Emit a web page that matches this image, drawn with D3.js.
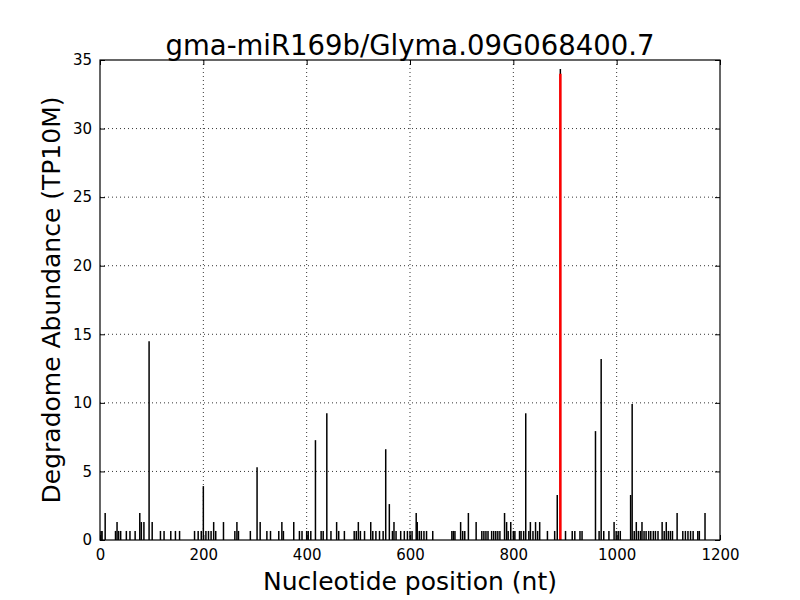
<!DOCTYPE html>
<html>
<head>
<meta charset="utf-8" />
<script src="https://d3js.org/d3.v7.min.js"></script>
<style>
  body { margin: 0; background: #fff; }
  text { font-family: "DejaVu Sans", sans-serif; }
</style>
</head>
<body>
<div id="chart"></div>
<script>
// degradome reads: position (nt) and abundance (TP10M)
var positions = [2, 4, 10, 30, 33, 36, 40, 51, 58, 68, 77, 80, 85, 95, 101, 117, 124, 137, 146, 154,
  183, 190, 196, 200, 205, 210, 215, 220, 224, 239, 261, 265, 268, 291, 304, 310, 323, 330, 346, 352,
  355, 375, 386, 391, 400, 403, 408, 417, 428, 432, 439, 447, 458, 462, 473, 492, 496, 500, 504, 512,
  524, 528, 534, 541, 548, 553, 560, 566, 569, 573, 582, 589, 595, 600, 604, 612, 614, 618, 622, 627,
  632, 644, 681, 684, 687, 698, 702, 706, 713, 728, 739, 743, 747, 751, 758, 762, 766, 770, 774, 783,
  787, 790, 795, 800, 803, 812, 815, 820, 824, 830, 833, 838, 843, 847, 851, 866, 880, 885, 891, 901,
  914, 919, 929, 933, 959, 966, 970, 975, 985, 995, 999, 1003, 1007, 1027, 1030, 1034, 1038, 1042, 1046, 1049,
  1053, 1057, 1062, 1066, 1071, 1075, 1080, 1088, 1092, 1096, 1100, 1104, 1108, 1117, 1128, 1133, 1138, 1143, 1148, 1157,
  1160, 1171];
var abundance = [0.66, 0.66, 1.97, 0.66, 1.31, 0.66, 0.66, 0.66, 0.66, 0.66, 1.97, 1.31, 1.31, 14.5, 1.31, 0.66, 0.66, 0.66, 0.66, 0.66,
  0.66, 0.66, 0.66, 3.93, 0.66, 0.66, 0.66, 1.31, 0.66, 1.31, 0.66, 1.31, 0.66, 0.66, 5.31, 1.31, 0.66, 0.66, 0.66, 1.31,
  0.66, 1.31, 0.66, 0.66, 0.66, 0.66, 0.66, 7.28, 0.66, 0.66, 9.24, 0.66, 1.31, 0.66, 0.66, 0.66, 0.66, 1.31, 0.66, 0.66,
  1.31, 0.66, 0.66, 0.66, 0.66, 6.62, 2.62, 0.66, 1.31, 0.66, 0.66, 0.66, 0.66, 0.66, 0.66, 1.97, 1.31, 0.66, 0.66, 0.66,
  0.66, 0.66, 0.66, 0.66, 0.66, 1.31, 0.66, 0.66, 1.97, 1.31, 0.66, 0.66, 0.66, 0.66, 0.66, 0.66, 0.66, 0.66, 0.66, 1.97,
  1.31, 0.66, 1.31, 0.66, 0.66, 0.66, 0.66, 0.66, 9.24, 0.66, 1.31, 0.66, 1.31, 0.66, 1.31, 0.66, 0.66, 3.28, 34.35, 0.66,
  0.66, 0.66, 0.66, 0.66, 7.94, 0.66, 13.2, 0.66, 0.66, 1.31, 0.66, 0.66, 0.66, 3.28, 9.92, 0.66, 1.31, 0.66, 0.66, 1.31,
  0.66, 0.66, 0.66, 0.66, 0.66, 0.66, 0.66, 1.31, 0.66, 1.31, 0.66, 0.66, 0.66, 1.97, 0.66, 0.66, 0.66, 0.66, 0.66, 0.66,
  0.66, 1.97];

// cleavage site
var sitePosition = [891];
var siteAbundance = [34.0];

var xTicks = [0, 200, 400, 600, 800, 1000, 1200];
var yTicks = [0, 5, 10, 15, 20, 25, 30, 35];

var margin = {top: 60, right: 80, bottom: 60, left: 100},
    width = 800 - margin.left - margin.right,
    height = 600 - margin.top - margin.bottom;

var svg = d3.select("#chart")
  .append("svg")
    .attr("width", 800)
    .attr("height", 600)
  .append("g")
    .attr("transform", "translate(" + margin.left + "," + margin.top + ")");

var x = d3.scaleLinear().domain([0, 1200]).range([0, width]);
var y = d3.scaleLinear().domain([0, 35]).range([height, 0]);

// grid
svg.append("g").selectAll("line.gx")
  .data(xTicks.slice(1, -1))
  .enter().append("line")
    .attr("x1", d => x(d)).attr("x2", d => x(d))
    .attr("y1", 0).attr("y2", height)
    .attr("stroke", "#000").attr("stroke-width", 0.8)
    .attr("stroke-dasharray", "1,3");
svg.append("g").selectAll("line.gy")
  .data(yTicks.slice(1, -1))
  .enter().append("line")
    .attr("x1", 0).attr("x2", width)
    .attr("y1", d => y(d)).attr("y2", d => y(d))
    .attr("stroke", "#000").attr("stroke-width", 0.8)
    .attr("stroke-dasharray", "1,3");

// bars
var data = positions.map((p, i) => ({pos: p, val: abundance[i]}));
svg.append("g").selectAll("line")
  .data(data)
  .enter().append("line")
    .attr("x1", d => x(d.pos)).attr("x2", d => x(d.pos))
    .attr("y1", y(0)).attr("y2", d => y(d.val))
    .attr("stroke", "#000").attr("stroke-width", 1.5);

svg.append("g").selectAll("line")
  .data(sitePosition.map((p, i) => ({pos: p, val: siteAbundance[i]})))
  .enter().append("line")
    .attr("x1", d => x(d.pos)).attr("x2", d => x(d.pos))
    .attr("y1", y(0)).attr("y2", d => y(d.val))
    .attr("stroke", "#ff0000").attr("stroke-width", 2.5);

// axes, ticks pointing inward on every side
function styleAxis(g) {
  g.select(".domain").remove();
  g.selectAll("text").attr("font-size", 15).attr("font-family", "DejaVu Sans").attr("fill", "#000");
  g.selectAll(".tick line").attr("stroke", "#000");
}
svg.append("g")
  .attr("transform", "translate(0," + height + ")")
  .call(d3.axisBottom(x).tickValues(xTicks).tickSize(-5).tickPadding(9).tickFormat(d3.format("d")))
  .call(styleAxis);
svg.append("g")
  .call(d3.axisLeft(y).tickValues(yTicks).tickSize(-5).tickPadding(8))
  .call(styleAxis);
svg.append("g")
  .call(d3.axisTop(x).tickValues(xTicks).tickSize(-5).tickFormat(""))
  .call(styleAxis);
svg.append("g")
  .attr("transform", "translate(" + width + ",0)")
  .call(d3.axisRight(y).tickValues(yTicks).tickSize(-5).tickFormat(""))
  .call(styleAxis);

svg.append("rect")
  .attr("width", width).attr("height", height)
  .attr("fill", "none").attr("stroke", "#000").attr("stroke-width", 1.2);

// titles
svg.append("text")
  .attr("x", width / 2).attr("y", -5)
  .attr("text-anchor", "middle")
  .attr("font-size", 27.5)
  .text("gma-miR169b/Glyma.09G068400.7");

svg.append("text")
  .attr("x", width / 2).attr("y", height + 50)
  .attr("text-anchor", "middle")
  .attr("font-size", 25)
  .text("Nucleotide position (nt)");

svg.append("text")
  .attr("transform", "rotate(-90)")
  .attr("x", -height / 2).attr("y", -40)
  .attr("text-anchor", "middle")
  .attr("font-size", 25)
  .text("Degradome Abundance (TP10M)");
</script>
</body>
</html>
